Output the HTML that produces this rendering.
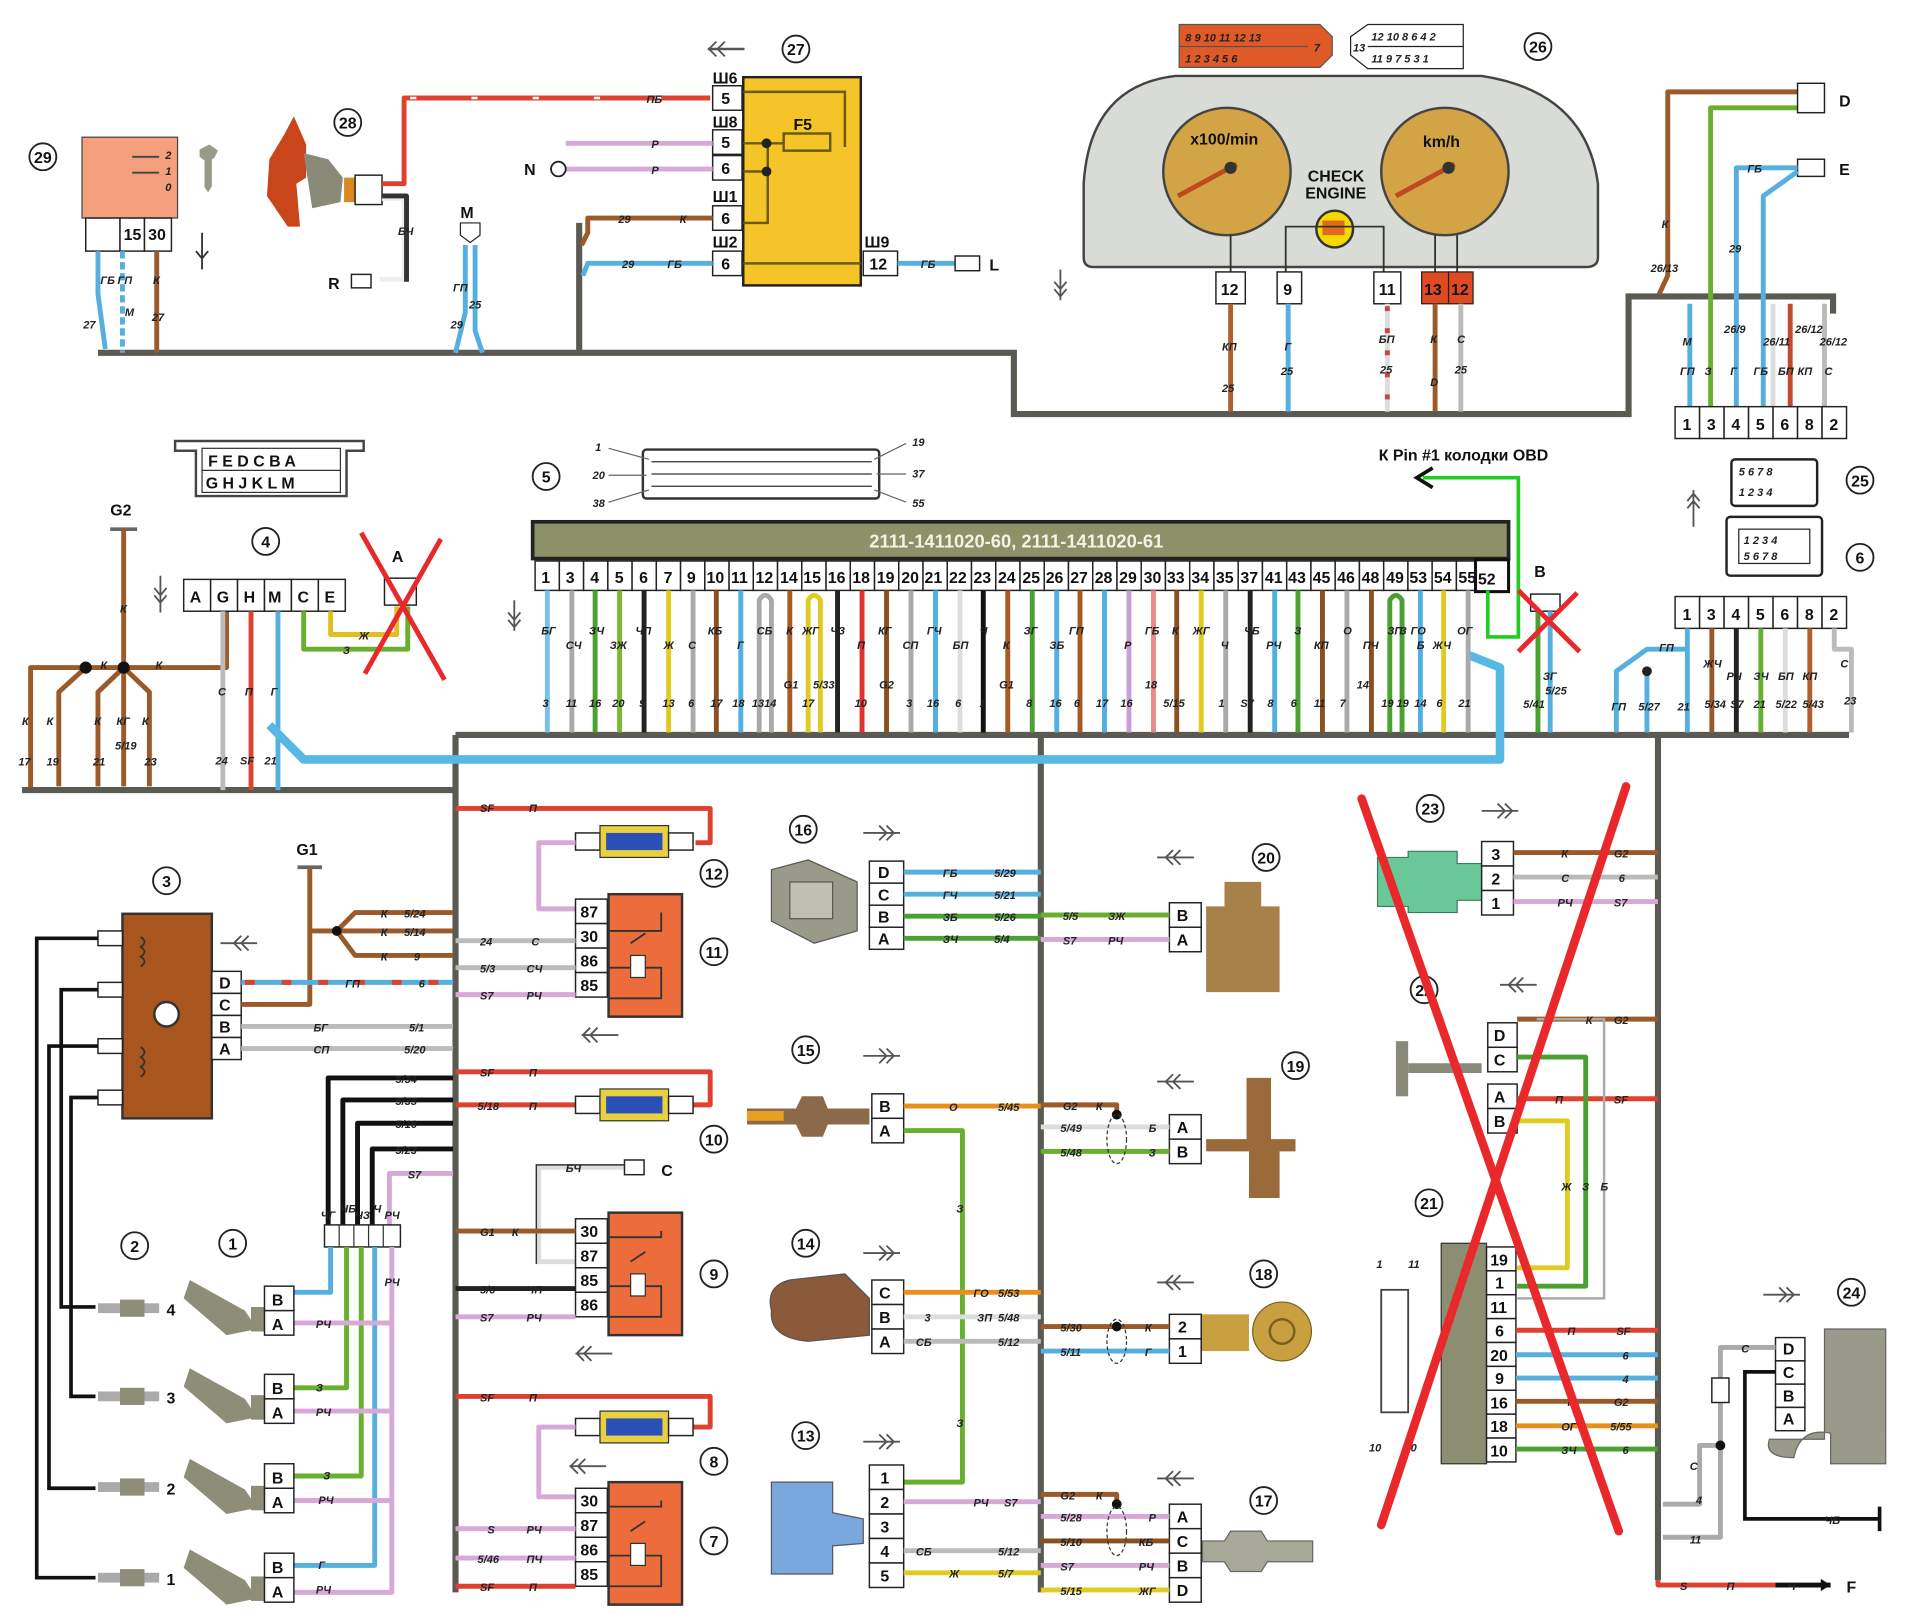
<!DOCTYPE html>
<html><head><meta charset="utf-8"><style>
html,body{margin:0;padding:0;background:#fff;}
svg{display:block;}
text{font-family:"Liberation Sans",sans-serif;font-weight:bold;}
.h{stroke:#5a5a52;stroke-width:5;fill:none;}
.w{fill:none;stroke-width:4;stroke-linejoin:round;}
.pb{fill:#fff;stroke:#222;stroke-width:1.2;}
.t{font-size:13px;fill:#111;}
.s{font-size:9px;fill:#222;font-style:italic;}
.n{font-size:13px;fill:#111;}
.c{fill:#fff;stroke:#222;stroke-width:1.5;}
</style></head><body>
<svg width="1920" height="1623" viewBox="0 0 1568 1325" preserveAspectRatio="none" xmlns="http://www.w3.org/2000/svg">
<rect width="1568" height="1325" fill="#fff"/>

<path class="h" d="M80 288 H828 V338 H1330 V242 H1497 V256"/>
<path class="h" d="M473 288 V182"/>
<path class="h" d="M18 645 H372"/>
<path class="h" d="M372 600 H1510"/>
<path class="h" d="M372 600 V1300"/>
<path class="h" d="M850 600 V1300"/>
<path class="h" d="M1354 600 V1290"/>

<circle class="c" cx="35" cy="128" r="11"/><text class="n" x="35" y="133" text-anchor="middle" font-size="11">29</text>
<rect x="67" y="112" width="78" height="66" fill="#f4a07c" stroke="#444"/>
<text class="s" x="135" y="130">2</text><text class="s" x="135" y="143">1</text><text class="s" x="135" y="156">0</text>
<line x1="108" y1="128" x2="130" y2="128" stroke="#444" stroke-width="1.5"/>
<line x1="108" y1="141" x2="130" y2="141" stroke="#444" stroke-width="1.5"/>
<rect class="pb" x="70" y="178" width="28" height="27"/><rect class="pb" x="98" y="178" width="20" height="27"/><rect class="pb" x="118" y="178" width="22" height="27"/>
<text class="t" x="101" y="196">15</text><text class="t" x="121" y="196">30</text>
<path d="M163 122 l8 -4 l7 5 l-3 6 l-2 1 v22 l-3 5 l-3 -4 v-22 l-4 -3z" fill="#9a9a88"/>
<path class="w" stroke="#55b0e0" d="M80 205 V240 L86 285"/>
<path class="w" stroke="#55b0e0" d="M100 205 V288" stroke-dasharray="6 3"/>
<path class="w" stroke="#9a5a2a" d="M128 205 V288"/>
<text class="s" x="82" y="232">ГБ</text><text class="s" x="96" y="232">ГП</text><text class="s" x="125" y="232">К</text>
<text class="s" x="68" y="268">27</text><text class="s" x="102" y="258">M</text><text class="s" x="124" y="262">27</text>
<path d="M165 190 v30 M160 205 l5 6 l5 -6" stroke="#333" fill="none" stroke-width="1.5"/>

<circle class="c" cx="284" cy="100" r="11"/><text class="n" x="284" y="105" text-anchor="middle" font-size="11">28</text>
<path d="M240 95 L232 110 L220 130 L218 160 L235 185 L245 185 L242 150 L250 145 V118z" fill="#c8461a"/>
<path d="M248 125 L268 130 L280 145 L278 165 L255 170z" fill="#8a8a78"/>
<rect x="281" y="145" width="10" height="20" fill="#d88a20"/>
<rect class="pb" x="290" y="143" width="22" height="24"/>
<path class="w" stroke="#e04030" d="M312 150 H330 V80 H580"/>
<path stroke="#fff" stroke-width="2" stroke-dasharray="5 45" fill="none" d="M335 80 H575"/>
<text class="s" x="528" y="84">ПБ</text>
<path class="w" stroke="#eee" d="M312 162 H330 V228 H310" />
<path class="w" stroke="#333" stroke-width="1.2" d="M312 160 H332 V230" />
<text class="s" x="325" y="192">БЧ</text>
<text class="t" x="268" y="236" font-size="16">R</text><rect class="pb" x="287" y="224" width="16" height="11"/>

<text class="t" x="376" y="178" font-size="16">M</text>
<path d="M376 182 h16 v10 l-8 6 l-8 -6z" fill="#fff" stroke="#222"/>
<path class="w" stroke="#55b0e0" d="M380 200 V255 L372 288"/>
<path class="w" stroke="#55b0e0" d="M388 200 V270 L394 288"/>
<text class="s" x="370" y="238">ГП</text><text class="s" x="383" y="252">25</text><text class="s" x="368" y="268">29</text>

<path d="M578 40 h30" stroke="#555" stroke-width="2"/><path d="M585 34 l-6 6 l6 6 M592 34 l-6 6 l6 6" stroke="#555" fill="none" stroke-width="1.5"/>
<circle class="c" cx="650" cy="40" r="11"/><text class="n" x="650" y="45" text-anchor="middle" font-size="11">27</text>
<rect x="607" y="63" width="96" height="170" fill="#f5c428" stroke="#222" stroke-width="2"/>
<path d="M607 75 H690 V120" stroke="#6a5a10" stroke-width="2" fill="none"/>
<rect x="640" y="109" width="38" height="14" fill="#f5c428" stroke="#6a5a10" stroke-width="2"/>
<text class="t" x="648" y="106">F5</text>
<path d="M607 117 H640 M607 140 H627 V117 M607 182 H627 V140 M607 215 H703" stroke="#6a5a10" stroke-width="2" fill="none"/>
<circle cx="626" cy="117" r="4" fill="#222"/><circle cx="626" cy="140" r="4" fill="#222"/>
<text class="t" x="582" y="68">Ш6</text><rect class="pb" x="582" y="70" width="24" height="20"/><text class="t" x="589" y="85">5</text>
<text class="t" x="582" y="104">Ш8</text><rect class="pb" x="582" y="106" width="24" height="20"/><text class="t" x="589" y="121">5</text>
<rect class="pb" x="582" y="127" width="24" height="20"/><text class="t" x="589" y="142">6</text>
<text class="t" x="582" y="165">Ш1</text><rect class="pb" x="582" y="168" width="24" height="20"/><text class="t" x="589" y="183">6</text>
<text class="t" x="582" y="202">Ш2</text><rect class="pb" x="582" y="205" width="24" height="20"/><text class="t" x="589" y="220">6</text>
<text class="t" x="706" y="202">Ш9</text><rect class="pb" x="705" y="205" width="28" height="20"/><text class="t" x="710" y="220">12</text>
<path class="w" stroke="#d8a8d8" d="M462 117 H582 M460 138 H582"/>
<text class="s" x="532" y="121">Р</text><text class="s" x="532" y="142">Р</text>
<text class="t" x="428" y="143" font-size="16">N</text><circle cx="456" cy="138" r="6" fill="#fff" stroke="#222" stroke-width="1.5"/>
<path class="w" stroke="#9a5a2a" d="M582 178 H480 V190 L475 200"/>
<text class="s" x="505" y="182">29</text><text class="s" x="555" y="182">К</text>
<path class="w" stroke="#55b0e0" d="M582 215 H480 L476 225"/>
<text class="s" x="508" y="219">29</text><text class="s" x="545" y="219">ГБ</text>
<path class="w" stroke="#55b0e0" d="M733 215 H780"/><text class="s" x="752" y="219">ГБ</text>
<rect class="pb" x="780" y="209" width="20" height="12"/><text class="t" x="808" y="221" font-size="16">L</text>

<path d="M963 20 H1078 L1088 30 V45 L1078 55 H963z" fill="#e05a28" stroke="#555"/>
<g class="s" font-style="normal" font-size="9">
<text x="968" y="34">8 9 10 11 12 13</text><text x="968" y="51">1 2 3 4 5 6</text><text x="1073" y="42">7</text>
</g>
<line x1="963" y1="38" x2="1068" y2="38" stroke="#555"/>
<path d="M1117 20 H1195 V56 H1117 L1103 45 V30z" fill="#fff" stroke="#222"/>
<line x1="1117" y1="38" x2="1195" y2="38" stroke="#222"/>
<g font-size="9" class="s" font-style="normal"><text x="1120" y="33">12 10 8 6 4 2</text><text x="1120" y="51">11 9 7 5 3 1</text><text x="1105" y="42">13</text></g>
<circle class="c" cx="1256" cy="38" r="11"/><text class="n" x="1256" y="43" text-anchor="middle" font-size="11">26</text>

<path d="M885 210 V150 Q890 70 960 62 H1210 Q1295 75 1305 150 V210 Q1305 218 1295 218 H893 Q885 218 885 210z" fill="#d9dcd6" stroke="#444" stroke-width="2"/>
<circle cx="1002" cy="140" r="52" fill="#d2a445" stroke="#444" stroke-width="2"/>
<circle cx="1180" cy="140" r="52" fill="#d2a445" stroke="#444" stroke-width="2"/>
<text class="t" x="972" y="118" font-size="12">x100/min</text>
<text class="t" x="1162" y="120" font-size="12">km/h</text>
<path d="M962 160 L1010 134" stroke="#c04a20" stroke-width="4"/><circle cx="1005" cy="137" r="5" fill="#333"/>
<path d="M1140 160 L1188 134" stroke="#c04a20" stroke-width="4"/><circle cx="1183" cy="137" r="5" fill="#333"/>
<text class="t" x="1068" y="148" font-size="11">CHECK</text><text class="t" x="1066" y="162" font-size="11">ENGINE</text>
<circle cx="1090" cy="187" r="15" fill="#f3d900" stroke="#333" stroke-width="2"/>
<rect x="1080" y="180" width="18" height="12" fill="#e06a18"/>
<path d="M1050 222 V185 H1130 V222 M1005 192 V222 M1172 192 V222 M1190 192 V222" stroke="#333" fill="none" stroke-width="1.5"/>
<rect class="pb" x="993" y="222" width="24" height="26"/><text class="t" x="997" y="241">12</text>
<rect class="pb" x="1043" y="222" width="20" height="26"/><text class="t" x="1048" y="241">9</text>
<rect class="pb" x="1122" y="222" width="22" height="26"/><text class="t" x="1126" y="241">11</text>
<rect x="1161" y="222" width="22" height="26" fill="#e04a20" stroke="#222"/><text class="t" x="1163" y="241">13</text>
<rect x="1183" y="222" width="20" height="26" fill="#e04a20" stroke="#222"/><text class="t" x="1185" y="241">12</text>
<path class="w" stroke="#b06030" d="M1005 248 V336"/><text class="s" x="998" y="286">КП</text><text class="s" x="998" y="320">25</text>
<path class="w" stroke="#55b0e0" d="M1052 248 V336"/><text class="s" x="1049" y="286">Г</text><text class="s" x="1046" y="306">25</text>
<path class="w" stroke="#ddd" d="M1133 248 V336"/><path stroke="#d04040" stroke-width="4" stroke-dasharray="4 14" d="M1133 250 V336"/><text class="s" x="1126" y="280">БП</text><text class="s" x="1127" y="305">25</text>
<path class="w" stroke="#9a5a2a" d="M1172 248 V336"/><text class="s" x="1168" y="280">К</text><text class="s" x="1168" y="315">D</text>
<path class="w" stroke="#bbb" d="M1193 248 V336"/><text class="s" x="1190" y="280">С</text><text class="s" x="1188" y="305">25</text>
<path d="M866 220 v25 M861 230 l5 6 l5 -6 M861 236 l5 6 l5 -6" stroke="#555" fill="none" stroke-width="1.5"/>

<path class="w" stroke="#9a5a2a" d="M1468 75 H1362 V225 L1355 240"/><text class="s" x="1357" y="186">К</text><text class="s" x="1348" y="222">26/13</text>
<path class="w" stroke="#6ab030" d="M1468 88 H1397 V332"/>
<rect class="pb" x="1468" y="68" width="22" height="24"/><text class="t" x="1502" y="87" font-size="16">D</text>
<rect class="pb" x="1468" y="130" width="22" height="14"/><text class="t" x="1502" y="143" font-size="16">E</text>
<path class="w" stroke="#55b0e0" d="M1468 137 H1418 V332"/><text class="s" x="1427" y="141">ГБ</text><text class="s" x="1412" y="206">29</text>
<path class="w" stroke="#55b0e0" d="M1468 140 L1440 160 V332"/>
<path class="w" stroke="#55b0e0" d="M1380 248 V332"/>
<path class="w" stroke="#c04a30" d="M1462 248 V332"/><path class="w" stroke="#ddd" d="M1448 248 V332"/><path class="w" stroke="#bbb" d="M1490 248 V332"/>
<g class="s"><text x="1374" y="282">M</text><text x="1372" y="306">ГП</text><text x="1392" y="306">З</text><text x="1413" y="306">Г</text><text x="1432" y="306">ГБ</text><text x="1452" y="306">БП</text><text x="1468" y="306">КП</text><text x="1490" y="306">С</text>
<text x="1408" y="272">26/9</text><text x="1440" y="282">26/11</text><text x="1466" y="272">26/12</text><text x="1486" y="282">26/12</text></g>
<g><rect class="pb" x="1368" y="332" width="20" height="26"/><rect class="pb" x="1388" y="332" width="20" height="26"/><rect class="pb" x="1408" y="332" width="20" height="26"/><rect class="pb" x="1428" y="332" width="20" height="26"/><rect class="pb" x="1448" y="332" width="20" height="26"/><rect class="pb" x="1468" y="332" width="20" height="26"/><rect class="pb" x="1488" y="332" width="20" height="26"/>
<text class="t" x="1374" y="351">1</text><text class="t" x="1394" y="351">3</text><text class="t" x="1414" y="351">4</text><text class="t" x="1434" y="351">5</text><text class="t" x="1454" y="351">6</text><text class="t" x="1474" y="351">8</text><text class="t" x="1494" y="351">2</text></g>

<rect x="1414" y="375" width="70" height="38" fill="#fff" stroke="#222" stroke-width="2" rx="3"/>
<text class="s" font-style="normal" x="1420" y="388">5 6 7 8</text><text class="s" font-style="normal" x="1420" y="405">1 2 3 4</text>
<circle class="c" cx="1519" cy="392" r="11"/><text class="n" x="1519" y="397" text-anchor="middle" font-size="11">25</text>
<rect x="1410" y="422" width="78" height="48" fill="#fff" stroke="#222" stroke-width="2" rx="3"/>
<rect x="1420" y="432" width="58" height="28" fill="#fff" stroke="#222"/>
<text class="s" font-style="normal" x="1424" y="444">1 2 3 4</text><text class="s" font-style="normal" x="1424" y="457">5 6 7 8</text>
<circle class="c" cx="1519" cy="455" r="11"/><text class="n" x="1519" y="460" text-anchor="middle" font-size="11">6</text>
<path d="M1383 400 v30 M1378 415 l5 -6 l5 6 M1378 409 l5 -6 l5 6" stroke="#555" fill="none" stroke-width="1.5"/>
<g><rect class="pb" x="1368" y="487" width="20" height="26"/><rect class="pb" x="1388" y="487" width="20" height="26"/><rect class="pb" x="1408" y="487" width="20" height="26"/><rect class="pb" x="1428" y="487" width="20" height="26"/><rect class="pb" x="1448" y="487" width="20" height="26"/><rect class="pb" x="1468" y="487" width="20" height="26"/><rect class="pb" x="1488" y="487" width="20" height="26"/>
<text class="t" x="1374" y="506">1</text><text class="t" x="1394" y="506">3</text><text class="t" x="1414" y="506">4</text><text class="t" x="1434" y="506">5</text><text class="t" x="1454" y="506">6</text><text class="t" x="1474" y="506">8</text><text class="t" x="1494" y="506">2</text></g>
<path class="w" stroke="#55b0e0" d="M1378 513 V530 H1345 L1320 548 V598 M1345 548 V598 M1378 530 V598"/><circle cx="1345" cy="548" r="4" fill="#222"/>
<path class="w" stroke="#9a5a2a" d="M1398 513 V598"/><path class="w" stroke="#222" d="M1418 513 V598"/><path class="w" stroke="#6ab030" d="M1438 513 V598"/><path class="w" stroke="#ddd" d="M1458 513 V598"/><path class="w" stroke="#b06030" d="M1478 513 V598"/><path class="w" stroke="#bbb" d="M1498 513 V530 H1512 V598"/>
<g class="s"><text x="1355" y="532">ГП</text><text x="1391" y="545">ЖЧ</text><text x="1410" y="555">РЧ</text><text x="1432" y="555">ЗЧ</text><text x="1452" y="555">БП</text><text x="1472" y="555">КП</text><text x="1503" y="545">С</text>
<text x="1316" y="580">ГП</text><text x="1338" y="580">5/27</text><text x="1370" y="580">21</text><text x="1392" y="578">5/34</text><text x="1413" y="578">S7</text><text x="1432" y="578">21</text><text x="1450" y="578">5/22</text><text x="1472" y="578">5/43</text><text x="1506" y="575">23</text></g>

<path d="M143 360 H297 V368 H283 V405 H160 V368 H143z" fill="#fff" stroke="#444" stroke-width="2"/>
<rect x="165" y="366" width="113" height="36" fill="#fff" stroke="#333"/>
<text class="t" x="170" y="381" font-size="12">F E D C B A</text><text class="t" x="168" y="399" font-size="12">G H J K L M</text>
<line x1="165" y1="384" x2="278" y2="384" stroke="#333"/>
<text class="t" x="90" y="421" font-size="16">G2</text>
<line x1="90" y1="432" x2="112" y2="432" stroke="#666" stroke-width="3"/>
<path class="w" stroke="#9a5a2a" d="M101 432 V545 M25 643 V545 H185 V475 M70 545 L48 565 V642 M101 545 L80 565 V642 M101 545 V642 M101 545 L122 565 V642"/>
<circle cx="70" cy="545" r="5" fill="#111"/><circle cx="101" cy="545" r="5" fill="#111"/>
<g class="s"><text x="98" y="500">К</text><text x="18" y="592">К</text><text x="38" y="592">К</text><text x="77" y="592">К</text><text x="95" y="592">КГ</text><text x="116" y="592">К</text><text x="82" y="546">К</text><text x="127" y="546">К</text>
<text x="15" y="625">17</text><text x="38" y="625">19</text><text x="76" y="625">21</text><text x="94" y="612">5/19</text><text x="118" y="625">23</text></g>
<circle class="c" cx="217" cy="442" r="11"/><text class="n" x="217" y="447" text-anchor="middle" font-size="11">4</text>
<path d="M131 470 v30 M126 480 l5 6 l5 -6 M126 486 l5 6 l5 -6" stroke="#555" fill="none" stroke-width="1.5"/>
<g><rect class="pb" x="150" y="473" width="22" height="26"/><rect class="pb" x="172" y="473" width="22" height="26"/><rect class="pb" x="194" y="473" width="22" height="26"/><rect class="pb" x="216" y="473" width="22" height="26"/><rect class="pb" x="238" y="473" width="22" height="26"/><rect class="pb" x="260" y="473" width="22" height="26"/>
<text class="t" x="155" y="492">A</text><text class="t" x="177" y="492">G</text><text class="t" x="199" y="492">H</text><text class="t" x="219" y="492">M</text><text class="t" x="243" y="492">C</text><text class="t" x="265" y="492">E</text></g>
<path class="w" stroke="#bbb" d="M182 499 V645"/><path class="w" stroke="#e04030" d="M205 499 V645"/><path class="w" stroke="#55b0e0" d="M227 499 V645"/>
<g class="s"><text x="178" y="568">С</text><text x="200" y="568">П</text><text x="221" y="568">Г</text><text x="176" y="624">24</text><text x="196" y="624">SF</text><text x="216" y="624">21</text></g>
<path class="w" stroke="#6ab030" d="M248 499 V530 H333 V495"/><path class="w" stroke="#e0c020" d="M270 499 V518 H324 V495"/>
<text class="s" x="293" y="522">Ж</text><text class="s" x="280" y="534">З</text>
<text class="t" x="320" y="459" font-size="14">A</text><rect class="pb" x="314" y="472" width="26" height="22"/>
<path d="M295 435 L363 555 M360 440 L298 550" stroke="#e8282a" stroke-width="4"/>

<path d="M220 592 L248 620 H1225 V545 L1200 535" stroke="#58b8e4" stroke-width="7" fill="none" stroke-linejoin="round"/>

<circle class="c" cx="446" cy="389" r="11"/><text class="n" x="446" y="394" text-anchor="middle" font-size="11">5</text>
<rect x="525" y="367" width="193" height="40" fill="#fff" stroke="#333" stroke-width="2" rx="3"/>
<g stroke="#333" stroke-width="1"><path d="M532 377 H712 M532 387 H712 M532 397 H712"/></g>
<g class="s" font-style="normal"><text x="486" y="368">1</text><text x="484" y="391">20</text><text x="484" y="414">38</text><text x="745" y="364">19</text><text x="745" y="390">37</text><text x="745" y="414">55</text></g>
<path d="M497 366 L530 375 M497 388 H528 M497 410 L530 400 M740 362 L714 375 M740 387 H716 M740 410 L714 400" stroke="#666" stroke-width="1"/>
<rect x="435" y="426" width="797" height="30" fill="#8c9168" stroke="#222" stroke-width="3"/>
<text x="830" y="447" font-size="15" fill="#f3f3e3" text-anchor="middle" font-weight="bold" font-family="Liberation Sans,sans-serif">2111-1411020-60, 2111-1411020-61</text>
<g font-size="13">
<rect class="pb" x="437" y="458" width="19.8" height="24"/><text class="t" x="442" y="476">1</text>
<rect class="pb" x="456.8" y="458" width="19.8" height="24"/><text class="t" x="462" y="476">3</text>
<rect class="pb" x="476.6" y="458" width="19.8" height="24"/><text class="t" x="482" y="476">4</text>
<rect class="pb" x="496.4" y="458" width="19.8" height="24"/><text class="t" x="502" y="476">5</text>
<rect class="pb" x="516.2" y="458" width="19.8" height="24"/><text class="t" x="522" y="476">6</text>
<rect class="pb" x="536" y="458" width="19.8" height="24"/><text class="t" x="542" y="476">7</text>
<rect class="pb" x="555.8" y="458" width="19.8" height="24"/><text class="t" x="561" y="476">9</text>
<rect class="pb" x="575.6" y="458" width="19.8" height="24"/><text class="t" x="577" y="476">10</text>
<rect class="pb" x="595.4" y="458" width="19.8" height="24"/><text class="t" x="597" y="476">11</text>
<rect class="pb" x="615.2" y="458" width="19.8" height="24"/><text class="t" x="617" y="476">12</text>
<rect class="pb" x="635" y="458" width="19.8" height="24"/><text class="t" x="637" y="476">14</text>
<rect class="pb" x="654.8" y="458" width="19.8" height="24"/><text class="t" x="656" y="476">15</text>
<rect class="pb" x="674.6" y="458" width="19.8" height="24"/><text class="t" x="676" y="476">16</text>
<rect class="pb" x="694.4" y="458" width="19.8" height="24"/><text class="t" x="696" y="476">18</text>
<rect class="pb" x="714.2" y="458" width="19.8" height="24"/><text class="t" x="716" y="476">19</text>
<rect class="pb" x="734" y="458" width="19.8" height="24"/><text class="t" x="736" y="476">20</text>
<rect class="pb" x="753.8" y="458" width="19.8" height="24"/><text class="t" x="755" y="476">21</text>
<rect class="pb" x="773.6" y="458" width="19.8" height="24"/><text class="t" x="775" y="476">22</text>
<rect class="pb" x="793.4" y="458" width="19.8" height="24"/><text class="t" x="795" y="476">23</text>
<rect class="pb" x="813.2" y="458" width="19.8" height="24"/><text class="t" x="815" y="476">24</text>
<rect class="pb" x="833" y="458" width="19.8" height="24"/><text class="t" x="835" y="476">25</text>
<rect class="pb" x="852.8" y="458" width="19.8" height="24"/><text class="t" x="854" y="476">26</text>
<rect class="pb" x="872.6" y="458" width="19.8" height="24"/><text class="t" x="874" y="476">27</text>
<rect class="pb" x="892.4" y="458" width="19.8" height="24"/><text class="t" x="894" y="476">28</text>
<rect class="pb" x="912.2" y="458" width="19.8" height="24"/><text class="t" x="914" y="476">29</text>
<rect class="pb" x="932" y="458" width="19.8" height="24"/><text class="t" x="934" y="476">30</text>
<rect class="pb" x="951.8" y="458" width="19.8" height="24"/><text class="t" x="953" y="476">33</text>
<rect class="pb" x="971.6" y="458" width="19.8" height="24"/><text class="t" x="973" y="476">34</text>
<rect class="pb" x="991.4" y="458" width="19.8" height="24"/><text class="t" x="993" y="476">35</text>
<rect class="pb" x="1011.2" y="458" width="19.8" height="24"/><text class="t" x="1013" y="476">37</text>
<rect class="pb" x="1031" y="458" width="19.8" height="24"/><text class="t" x="1033" y="476">41</text>
<rect class="pb" x="1050.8" y="458" width="19.8" height="24"/><text class="t" x="1052" y="476">43</text>
<rect class="pb" x="1070.6" y="458" width="19.8" height="24"/><text class="t" x="1072" y="476">45</text>
<rect class="pb" x="1090.4" y="458" width="19.8" height="24"/><text class="t" x="1092" y="476">46</text>
<rect class="pb" x="1110.2" y="458" width="19.8" height="24"/><text class="t" x="1112" y="476">48</text>
<rect class="pb" x="1130" y="458" width="19.8" height="24"/><text class="t" x="1132" y="476">49</text>
<rect class="pb" x="1149.8" y="458" width="19.8" height="24"/><text class="t" x="1151" y="476">53</text>
<rect class="pb" x="1169.6" y="458" width="19.8" height="24"/><text class="t" x="1171" y="476">54</text>
<rect class="pb" x="1189.4" y="458" width="19.8" height="24"/><text class="t" x="1191" y="476">55</text>
<rect x="1205" y="457" width="27" height="26" fill="#fff" stroke="#111" stroke-width="2.5"/><text class="t" x="1207" y="477" font-size="15">52</text>
</g>
<g class="w" stroke-width="3.5">
<path stroke="#7ac0e8" d="M447 482 V598"/><path stroke="#aaa" d="M467 482 V598"/><path stroke="#4aa030" d="M486 482 V598"/><path stroke="#7ab830" d="M506 482 V598"/>
<path stroke="#222" d="M526 482 V598"/><path stroke="#e0cc20" d="M546 482 V598"/><path stroke="#aaa" d="M566 482 V598"/><path stroke="#8a5020" d="M585 482 V598"/>
<path stroke="#50b0e0" d="M605 482 V598"/><path stroke="#aaa" d="M620 598 V490 Q625 482 630 490 V598"/><path stroke="#a85a20" d="M645 482 V598"/><path stroke="#e0cc20" d="M660 598 V490 Q665 482 670 490 V598"/>
<path stroke="#222" d="M684 482 V598"/><path stroke="#e03030" d="M704 482 V598"/><path stroke="#8a5020" d="M724 482 V598"/><path stroke="#aaa" d="M744 482 V598"/>
<path stroke="#50b0e0" d="M764 482 V598"/><path stroke="#ddd" d="M784 482 V598"/><path stroke="#111" d="M803 482 V598"/><path stroke="#a85a20" d="M823 482 V598"/>
<path stroke="#4aa030" d="M843 482 V598"/><path stroke="#50b0e0" d="M863 482 V598"/><path stroke="#a85a20" d="M882 482 V598"/><path stroke="#50b0e0" d="M902 482 V598"/>
<path stroke="#c8a0d8" d="M922 482 V598"/><path stroke="#e88a8a" d="M942 482 V598"/><path stroke="#8a5020" d="M961 482 V598"/><path stroke="#e0cc20" d="M981 482 V598"/>
<path stroke="#aaa" d="M1001 482 V598"/><path stroke="#222" d="M1021 482 V598"/><path stroke="#50b0e0" d="M1041 482 V598"/><path stroke="#4aa030" d="M1060 482 V598"/>
<path stroke="#8a5020" d="M1080 482 V598"/><path stroke="#aaa" d="M1100 482 V598"/><path stroke="#8a5020" d="M1120 482 V598"/><path stroke="#4aa030" d="M1135 598 V490 Q1140 482 1145 490 V598"/>
<path stroke="#50b0e0" d="M1160 482 V598"/><path stroke="#e0cc20" d="M1179 482 V598"/><path stroke="#aaa" d="M1199 482 V598"/>
</g>
<g class="s" font-size="8.5">
<text x="442" y="518">БГ</text><text x="462" y="530">СЧ</text><text x="481" y="518">ЗЧ</text><text x="498" y="530">ЗЖ</text><text x="519" y="518">ЧП</text><text x="542" y="530">Ж</text><text x="562" y="530">С</text><text x="578" y="518">КБ</text><text x="602" y="530">Г</text><text x="618" y="518">СБ</text><text x="642" y="518">К</text><text x="655" y="518">ЖГ</text><text x="678" y="518">ЧЗ</text><text x="700" y="530">П</text><text x="717" y="518">КГ</text><text x="737" y="530">СП</text><text x="757" y="518">ГЧ</text><text x="778" y="530">БП</text><text x="800" y="518">Ч</text><text x="819" y="530">К</text><text x="836" y="518">ЗГ</text><text x="857" y="530">ЗБ</text><text x="873" y="518">ГП</text><text x="918" y="530">Р</text><text x="935" y="518">ГБ</text><text x="957" y="518">К</text><text x="974" y="518">ЖГ</text><text x="997" y="530">Ч</text><text x="1016" y="518">ЧБ</text><text x="1034" y="530">РЧ</text><text x="1057" y="518">З</text><text x="1073" y="530">КП</text><text x="1097" y="518">О</text><text x="1113" y="530">ПЧ</text><text x="1133" y="518">ЗП</text><text x="1143" y="518">З</text><text x="1157" y="530">Б</text><text x="1152" y="518">ГО</text><text x="1170" y="530">ЖЧ</text><text x="1190" y="518">ОГ</text>
<text x="443" y="577">3</text><text x="462" y="577">11</text><text x="481" y="577">16</text><text x="500" y="577">20</text><text x="522" y="577">9</text><text x="541" y="577">13</text><text x="562" y="577">6</text><text x="580" y="577">17</text><text x="598" y="577">18</text><text x="614" y="577">1314</text><text x="640" y="562">G1</text><text x="655" y="577">17</text><text x="664" y="562">5/33</text><text x="698" y="577">10</text><text x="718" y="562">G2</text><text x="740" y="577">3</text><text x="757" y="577">16</text><text x="780" y="577">6</text><text x="800" y="577">1</text><text x="816" y="562">G1</text><text x="838" y="577">8</text><text x="857" y="577">16</text><text x="877" y="577">6</text><text x="895" y="577">17</text><text x="915" y="577">16</text><text x="935" y="562">18</text><text x="950" y="577">5/15</text><text x="995" y="577">1</text><text x="1013" y="577">S7</text><text x="1035" y="577">8</text><text x="1054" y="577">6</text><text x="1073" y="577">11</text><text x="1094" y="577">7</text><text x="1108" y="562">14</text><text x="1128" y="577">19 19</text><text x="1155" y="577">14</text><text x="1173" y="577">6</text><text x="1191" y="577">21</text>
</g>
<path d="M420 490 v25 M415 500 l5 6 l5 -6 M415 506 l5 6 l5 -6" stroke="#555" fill="none" stroke-width="1.5"/>
<path d="M1215 482 V520 H1240 V390 H1162" stroke="#22cc22" stroke-width="3" fill="none"/>
<path d="M1170 382 L1157 390 L1170 398" stroke="#111" stroke-width="3" fill="none"/>
<text class="t" x="1126" y="376" font-size="11">К Pin #1 колодки OBD</text>
<text class="t" x="1253" y="471" font-size="15">B</text>
<rect class="pb" x="1250" y="485" width="24" height="14"/>
<path class="w" stroke="#4aa030" d="M1256 499 V598"/><path class="w" stroke="#55b0e0" d="M1266 499 V598"/>
<text class="s" x="1260" y="555">ЗГ</text><text class="s" x="1244" y="578">5/41</text><text class="s" x="1262" y="567">5/25</text>
<path d="M1240 482 L1290 532 M1288 484 L1240 532" stroke="#e8282a" stroke-width="4"/>

<circle class="c" cx="136" cy="719" r="11"/><text class="n" x="136" y="724" text-anchor="middle" font-size="11">3</text>
<rect x="100" y="746" width="73" height="167" fill="#a8561e" stroke="#333" stroke-width="2"/>
<circle cx="136" cy="828" r="10" fill="#fff" stroke="#333" stroke-width="2"/>
<path d="M115 765 q6 4 0 8 q6 4 0 8 q6 4 0 8 M115 855 q6 4 0 8 q6 4 0 8 q6 4 0 8" stroke="#333" fill="none" stroke-width="1.5"/>
<g><rect class="pb" x="80" y="760" width="20" height="12"/><rect class="pb" x="80" y="802" width="20" height="12"/><rect class="pb" x="80" y="848" width="20" height="12"/><rect class="pb" x="80" y="890" width="20" height="12"/></g>
<path d="M80 766 H30 V1288 H78 M80 808 H50 V1067 H78 M80 854 H40 V1215 H78 M80 896 H58 V1140 H78" stroke="#111" stroke-width="3" fill="none"/>
<g><rect class="pb" x="173" y="793" width="24" height="18"/><rect class="pb" x="173" y="811" width="24" height="18"/><rect class="pb" x="173" y="829" width="24" height="18"/><rect class="pb" x="173" y="847" width="24" height="18"/>
<text class="t" x="179" y="807">D</text><text class="t" x="179" y="825">C</text><text class="t" x="179" y="843">B</text><text class="t" x="179" y="861">A</text></g>
<path d="M180 770 h30 M197 764 l-6 6 l6 6 M203 764 l-6 6 l6 6" stroke="#555" fill="none" stroke-width="1.5"/>
<text class="t" x="242" y="698" font-size="16">G1</text><line x1="243" y1="708" x2="263" y2="708" stroke="#666" stroke-width="3"/>
<path class="w" stroke="#9a5a2a" d="M253 708 V820 H197 M253 760 H275 L290 745 H370 M275 760 H370 M275 760 L290 780 H370"/>
<circle cx="275" cy="760" r="4" fill="#111"/>
<g class="s"><text x="311" y="749">К</text><text x="330" y="749">5/24</text><text x="311" y="764">К</text><text x="330" y="764">5/14</text><text x="311" y="784">К</text><text x="338" y="784">9</text></g>
<path class="w" stroke="#55b0e0" d="M197 802 H370"/><path stroke="#e04030" stroke-width="4" stroke-dasharray="8 22" d="M200 802 H370"/>
<path class="w" stroke="#bbb" d="M197 838 H370"/><path class="w" stroke="#bbb" d="M197 856 H370"/>
<g class="s"><text x="282" y="806">ГП</text><text x="342" y="806">6</text><text x="256" y="842">БГ</text><text x="334" y="842">5/1</text><text x="256" y="860">СП</text><text x="330" y="860">5/20</text></g>

<path class="w" stroke="#111" d="M268 1000 V880 H370 M280 1000 V898 H370 M292 1000 V917 H370 M304 1000 V938 H370"/>
<path class="w" stroke="#d8a8d8" d="M318 1000 V958 H370"/>
<g class="s"><text x="323" y="884">5/34</text><text x="323" y="902">5/35</text><text x="323" y="921">5/16</text><text x="323" y="942">5/23</text><text x="333" y="962">S7</text>
<text x="262" y="995">ЧГ</text><text x="278" y="990">ЧБ</text><text x="290" y="995">ЧЗ</text><text x="305" y="990">Ч</text><text x="314" y="995">РЧ</text></g>
<rect class="pb" x="265" y="1000" width="62" height="18"/>
<g stroke="#333" fill="none"><path d="M277 1000 V1018 M289 1000 V1018 M301 1000 V1018 M313 1000 V1018"/></g>
<path class="w" stroke="#55b0e0" d="M270 1018 V1055 H240"/><path class="w" stroke="#6ab030" d="M283 1018 V1133 H240 M295 1018 V1205 H240"/><path class="w" stroke="#55b0e0" d="M306 1018 V1278 H240"/>
<path class="w" stroke="#d8a8d8" d="M320 1018 V1300 H240 M320 1080 H240 M320 1152 H240 M320 1225 H240"/>
<g class="s"><text x="258" y="1084">РЧ</text><text x="258" y="1136">З</text><text x="258" y="1156">РЧ</text><text x="264" y="1208">З</text><text x="260" y="1228">РЧ</text><text x="260" y="1281">Г</text><text x="258" y="1301">РЧ</text><text x="314" y="1050">РЧ</text></g>
<circle class="c" cx="110" cy="1017" r="11"/><text class="n" x="110" y="1022" text-anchor="middle" font-size="11">2</text>
<circle class="c" cx="190" cy="1015" r="11"/><text class="n" x="190" y="1020" text-anchor="middle" font-size="11">1</text>
<g id="inj">
<path d="M155 1045 L200 1070 L210 1085 L185 1090 L150 1060z" fill="#8e8e78"/>
<rect x="205" y="1067" width="12" height="20" fill="#8e8e78"/>
<rect x="80" y="1064" width="50" height="8" fill="#aaa"/><rect x="98" y="1061" width="20" height="14" fill="#8e8e78"/>
</g>
<use href="#inj" y="72"/><use href="#inj" y="146"/><use href="#inj" y="220"/>
<g class="t"><text x="136" y="1074">4</text><text x="136" y="1146">3</text><text x="136" y="1220">2</text><text x="136" y="1294">1</text></g>
<g><rect class="pb" x="216" y="1050" width="24" height="20"/><rect class="pb" x="216" y="1070" width="24" height="20"/><text class="t" x="222" y="1066">B</text><text class="t" x="222" y="1086">A</text>
<rect class="pb" x="216" y="1122" width="24" height="20"/><rect class="pb" x="216" y="1142" width="24" height="20"/><text class="t" x="222" y="1138">B</text><text class="t" x="222" y="1158">A</text>
<rect class="pb" x="216" y="1195" width="24" height="20"/><rect class="pb" x="216" y="1215" width="24" height="20"/><text class="t" x="222" y="1211">B</text><text class="t" x="222" y="1231">A</text>
<rect class="pb" x="216" y="1268" width="24" height="20"/><rect class="pb" x="216" y="1288" width="24" height="20"/><text class="t" x="222" y="1284">B</text><text class="t" x="222" y="1304">A</text></g>

<g id="rel">
<path class="w" stroke="#e04030" d="M372 660 H580 V688 H568"/>
<text class="s" x="392" y="663">SF</text><text class="s" x="432" y="663">П</text>
<rect class="pb" x="470" y="680" width="20" height="14"/><rect x="490" y="674" width="56" height="26" fill="#e8d040" stroke="#333"/><rect x="495" y="680" width="46" height="14" fill="#2a50b8"/><rect class="pb" x="546" y="680" width="20" height="14"/>
<path class="w" stroke="#d8a8d8" d="M470 688 H440 V742 H470"/>
<rect x="497" y="730" width="60" height="100" fill="#ec6c3c" stroke="#333" stroke-width="2"/>
<path d="M497 760 H540 V745 M497 790 H540 V815 H497 M515 770 l12 -8" stroke="#333" fill="none" stroke-width="1.5"/>
<rect x="515" y="780" width="12" height="18" fill="#fff" stroke="#333"/>
</g>
<g><rect class="pb" x="470" y="734" width="26" height="20"/><rect class="pb" x="470" y="754" width="26" height="20"/><rect class="pb" x="470" y="774" width="26" height="20"/><rect class="pb" x="470" y="794" width="26" height="20"/>
<text class="t" x="474" y="749">87</text><text class="t" x="474" y="769">30</text><text class="t" x="474" y="789">86</text><text class="t" x="474" y="809">85</text></g>
<path class="w" stroke="#bbb" d="M372 768 H470 M372 790 H470"/><path class="w" stroke="#d8a8d8" d="M372 812 H470"/>
<g class="s"><text x="392" y="772">24</text><text x="434" y="772">С</text><text x="392" y="794">5/3</text><text x="430" y="794">СЧ</text><text x="392" y="816">S7</text><text x="430" y="816">РЧ</text></g>
<circle class="c" cx="583" cy="713" r="11"/><text class="n" x="583" y="718" text-anchor="middle" font-size="11">12</text>
<circle class="c" cx="583" cy="777" r="11"/><text class="n" x="583" y="782" text-anchor="middle" font-size="11">11</text>
<path d="M475 845 h30 M482 839 l-6 6 l6 6 M488 839 l-6 6 l6 6" stroke="#555" fill="none" stroke-width="1.5"/>

<path class="w" stroke="#e04030" d="M372 875 H580 V902 H566 M372 902 H470"/>
<g class="s"><text x="392" y="879">SF</text><text x="432" y="879">П</text><text x="390" y="906">5/18</text><text x="432" y="906">П</text></g>
<rect class="pb" x="470" y="895" width="20" height="14"/><rect x="490" y="889" width="56" height="26" fill="#e8d040" stroke="#333"/><rect x="495" y="895" width="46" height="14" fill="#2a50b8"/><rect class="pb" x="546" y="895" width="20" height="14"/>
<circle class="c" cx="583" cy="930" r="11"/><text class="n" x="583" y="935" text-anchor="middle" font-size="11">10</text>
<path class="w" stroke="#ddd" d="M510 953 H440 V1030 H470"/><path stroke="#333" stroke-width="1.2" fill="none" d="M512 951 H438 V1032"/>
<text class="s" x="462" y="957">БЧ</text><rect class="pb" x="510" y="947" width="16" height="12"/><text class="t" x="540" y="960" font-size="16">C</text>
<rect x="497" y="990" width="60" height="100" fill="#ec6c3c" stroke="#333" stroke-width="2"/>
<path d="M497 1010 H540 V1005 M497 1050 H540 V1075 H497 M515 1030 l12 -8" stroke="#333" fill="none" stroke-width="1.5"/>
<rect x="515" y="1040" width="12" height="18" fill="#fff" stroke="#333"/>
<g><rect class="pb" x="470" y="995" width="26" height="20"/><rect class="pb" x="470" y="1015" width="26" height="20"/><rect class="pb" x="470" y="1035" width="26" height="20"/><rect class="pb" x="470" y="1055" width="26" height="20"/>
<text class="t" x="474" y="1010">30</text><text class="t" x="474" y="1030">87</text><text class="t" x="474" y="1050">85</text><text class="t" x="474" y="1070">86</text></g>
<path class="w" stroke="#9a5a2a" d="M372 1005 H470"/><path class="w" stroke="#222" d="M372 1052 H470"/><path class="w" stroke="#d8a8d8" d="M372 1075 H470"/>
<g class="s"><text x="392" y="1009">G1</text><text x="418" y="1009">К</text><text x="392" y="1056">5/6</text><text x="430" y="1056">ЧП</text><text x="392" y="1079">S7</text><text x="430" y="1079">РЧ</text></g>
<circle class="c" cx="583" cy="1040" r="11"/><text class="n" x="583" y="1045" text-anchor="middle" font-size="11">9</text>
<path d="M470 1105 h30 M477 1099 l-6 6 l6 6 M483 1099 l-6 6 l6 6" stroke="#555" fill="none" stroke-width="1.5"/>

<path class="w" stroke="#e04030" d="M372 1140 H580 V1165 H566"/>
<g class="s"><text x="392" y="1144">SF</text><text x="432" y="1144">П</text></g>
<rect class="pb" x="470" y="1158" width="20" height="14"/><rect x="490" y="1152" width="56" height="26" fill="#e8d040" stroke="#333"/><rect x="495" y="1158" width="46" height="14" fill="#2a50b8"/><rect class="pb" x="546" y="1158" width="20" height="14"/>
<path class="w" stroke="#d8a8d8" d="M470 1165 H440 V1222 H470"/>
<circle class="c" cx="583" cy="1193" r="11"/><text class="n" x="583" y="1198" text-anchor="middle" font-size="11">8</text>
<path d="M465 1197 h30 M472 1191 l-6 6 l6 6 M478 1191 l-6 6 l6 6" stroke="#555" fill="none" stroke-width="1.5"/>
<rect x="497" y="1210" width="60" height="100" fill="#ec6c3c" stroke="#333" stroke-width="2"/>
<path d="M497 1230 H540 V1225 M497 1270 H540 V1295 H497 M515 1250 l12 -8" stroke="#333" fill="none" stroke-width="1.5"/>
<rect x="515" y="1260" width="12" height="18" fill="#fff" stroke="#333"/>
<g><rect class="pb" x="470" y="1215" width="26" height="20"/><rect class="pb" x="470" y="1235" width="26" height="20"/><rect class="pb" x="470" y="1255" width="26" height="20"/><rect class="pb" x="470" y="1275" width="26" height="20"/>
<text class="t" x="474" y="1230">30</text><text class="t" x="474" y="1250">87</text><text class="t" x="474" y="1270">86</text><text class="t" x="474" y="1290">85</text></g>
<path class="w" stroke="#d8a8d8" d="M372 1248 H470"/><path class="w" stroke="#d8a8d8" d="M372 1272 H470"/><path class="w" stroke="#e04030" d="M372 1295 H470"/>
<g class="s"><text x="398" y="1252">S</text><text x="430" y="1252">РЧ</text><text x="390" y="1276">5/46</text><text x="430" y="1276">ПЧ</text><text x="392" y="1299">SF</text><text x="432" y="1299">П</text></g>
<circle class="c" cx="583" cy="1258" r="11"/><text class="n" x="583" y="1263" text-anchor="middle" font-size="11">7</text>

<circle class="c" cx="656" cy="677" r="11"/><text class="n" x="656" y="682" text-anchor="middle" font-size="11">16</text>
<path d="M705 680 h30 M718 674 l6 6 l-6 6 M724 674 l6 6 l-6 6" stroke="#555" fill="none" stroke-width="1.5"/>
<path d="M630 710 L660 702 L700 720 V760 L665 770 L630 752z" fill="#9a9a8a" stroke="#555"/>
<rect x="645" y="720" width="35" height="30" fill="#c0c0b0" stroke="#555"/>
<g><rect class="pb" x="710" y="703" width="28" height="18"/><rect class="pb" x="710" y="721" width="28" height="18"/><rect class="pb" x="710" y="739" width="28" height="18"/><rect class="pb" x="710" y="757" width="28" height="18"/>
<text class="t" x="717" y="717">D</text><text class="t" x="717" y="735">C</text><text class="t" x="717" y="753">B</text><text class="t" x="717" y="771">A</text></g>
<path class="w" stroke="#55b0e0" d="M738 712 H850 M738 730 H850"/><path class="w" stroke="#4aa030" d="M738 748 H850 M738 766 H850"/>
<g class="s"><text x="770" y="716">ГБ</text><text x="812" y="716">5/29</text><text x="770" y="734">ГЧ</text><text x="812" y="734">5/21</text><text x="770" y="752">ЗБ</text><text x="812" y="752">5/26</text><text x="770" y="770">ЗЧ</text><text x="812" y="770">5/4</text></g>

<circle class="c" cx="658" cy="857" r="11"/><text class="n" x="658" y="862" text-anchor="middle" font-size="11">15</text>
<path d="M705 862 h30 M718 856 l6 6 l-6 6 M724 856 l6 6 l-6 6" stroke="#555" fill="none" stroke-width="1.5"/>
<path d="M610 905 H650 L655 895 H672 L676 905 H710 V918 H676 L672 928 H655 L650 918 H610z" fill="#8a6a4a"/>
<rect x="610" y="907" width="30" height="8" fill="#e8a020"/>
<g><rect class="pb" x="712" y="893" width="26" height="20"/><rect class="pb" x="712" y="913" width="26" height="20"/><text class="t" x="718" y="908">B</text><text class="t" x="718" y="928">A</text></g>
<path class="w" stroke="#e8901a" d="M738 903 H850"/><path class="w" stroke="#6ab030" d="M738 923 H786 V1210 H738"/>
<g class="s"><text x="775" y="907">О</text><text x="815" y="907">5/45</text><text x="781" y="990">З</text><text x="781" y="1165">З</text></g>

<circle class="c" cx="658" cy="1015" r="11"/><text class="n" x="658" y="1020" text-anchor="middle" font-size="11">14</text>
<path d="M705 1023 h30 M718 1017 l6 6 l-6 6 M724 1017 l6 6 l-6 6" stroke="#555" fill="none" stroke-width="1.5"/>
<path d="M630 1070 Q625 1050 645 1045 L690 1040 L710 1060 V1090 L660 1095 Q628 1092 630 1070z" fill="#8a5a3a" stroke="#555"/>
<g><rect class="pb" x="712" y="1045" width="26" height="20"/><rect class="pb" x="712" y="1065" width="26" height="20"/><rect class="pb" x="712" y="1085" width="26" height="20"/><text class="t" x="718" y="1060">C</text><text class="t" x="718" y="1080">B</text><text class="t" x="718" y="1100">A</text></g>
<path class="w" stroke="#e8901a" d="M738 1055 H850"/><path class="w" stroke="#ddd" d="M738 1075 H850"/><path class="w" stroke="#bbb" d="M738 1095 H850"/>
<g class="s"><text x="795" y="1059">ГО</text><text x="815" y="1059">5/53</text><text x="755" y="1079">3</text><text x="798" y="1079">ЗП</text><text x="815" y="1079">5/48</text><text x="748" y="1099">СБ</text><text x="815" y="1099">5/12</text></g>

<circle class="c" cx="658" cy="1172" r="11"/><text class="n" x="658" y="1177" text-anchor="middle" font-size="11">13</text>
<path d="M705 1177 h30 M718 1171 l6 6 l-6 6 M724 1171 l6 6 l-6 6" stroke="#555" fill="none" stroke-width="1.5"/>
<path d="M630 1210 H680 V1235 L705 1240 V1260 L680 1262 V1285 H630z" fill="#7aa8dc" stroke="#556"/>
<g><rect class="pb" x="710" y="1196" width="28" height="20"/><rect class="pb" x="710" y="1216" width="28" height="20"/><rect class="pb" x="710" y="1236" width="28" height="20"/><rect class="pb" x="710" y="1256" width="28" height="20"/><rect class="pb" x="710" y="1276" width="28" height="20"/>
<text class="t" x="719" y="1211">1</text><text class="t" x="719" y="1231">2</text><text class="t" x="719" y="1251">3</text><text class="t" x="719" y="1271">4</text><text class="t" x="719" y="1291">5</text></g>
<path class="w" stroke="#d8a8d8" d="M738 1226 H850"/><path class="w" stroke="#bbb" d="M738 1266 H850"/><path class="w" stroke="#e0cc20" d="M738 1284 H850"/>
<g class="s"><text x="795" y="1230">РЧ</text><text x="820" y="1230">S7</text><text x="748" y="1270">СБ</text><text x="815" y="1270">5/12</text><text x="775" y="1288">Ж</text><text x="815" y="1288">5/7</text></g>

<path d="M945 700 h30 M958 694 l-6 6 l6 6 M964 694 l-6 6 l6 6" stroke="#555" fill="none" stroke-width="1.5"/>
<circle class="c" cx="1034" cy="700" r="11"/><text class="n" x="1034" y="705" text-anchor="middle" font-size="11">20</text>
<path d="M985 740 H1045 V810 H985z M1000 720 H1030 V740 H1000z" fill="#a8804a"/>
<g><rect class="pb" x="955" y="737" width="26" height="20"/><rect class="pb" x="955" y="757" width="26" height="20"/><text class="t" x="961" y="752">B</text><text class="t" x="961" y="772">A</text></g>
<path class="w" stroke="#6ab030" d="M850 747 H955"/><path class="w" stroke="#d8a8d8" d="M850 767 H955"/>
<g class="s"><text x="868" y="751">5/5</text><text x="905" y="751">ЗЖ</text><text x="868" y="771">S7</text><text x="905" y="771">РЧ</text></g>

<path d="M945 883 h30 M958 877 l-6 6 l6 6 M964 877 l-6 6 l6 6" stroke="#555" fill="none" stroke-width="1.5"/>
<circle class="c" cx="1058" cy="870" r="11"/><text class="n" x="1058" y="875" text-anchor="middle" font-size="11">19</text>
<path d="M1018 880 H1038 V930 H1058 V940 H1045 V978 H1020 V940 H985 V930 H1018z" fill="#9a6a3a"/>
<g><rect class="pb" x="955" y="910" width="26" height="20"/><rect class="pb" x="955" y="930" width="26" height="20"/><text class="t" x="961" y="925">A</text><text class="t" x="961" y="945">B</text></g>
<path class="w" stroke="#9a5a2a" d="M850 902 H912 V910"/><path class="w" stroke="#ddd" d="M850 920 H955"/><path class="w" stroke="#6ab030" d="M850 940 H955"/>
<circle cx="912" cy="910" r="4" fill="#111"/><ellipse cx="912" cy="930" rx="8" ry="20" fill="none" stroke="#333" stroke-dasharray="3 2"/>
<g class="s"><text x="868" y="906">G2</text><text x="895" y="906">К</text><text x="866" y="924">5/49</text><text x="938" y="924">Б</text><text x="866" y="944">5/48</text><text x="938" y="944">З</text></g>

<path d="M945 1047 h30 M958 1041 l-6 6 l6 6 M964 1041 l-6 6 l6 6" stroke="#555" fill="none" stroke-width="1.5"/>
<circle class="c" cx="1032" cy="1040" r="11"/><text class="n" x="1032" y="1045" text-anchor="middle" font-size="11">18</text>
<rect x="980" y="1073" width="40" height="30" fill="#c8a040"/><circle cx="1047" cy="1087" r="24" fill="#c8a040" stroke="#7a6020"/><circle cx="1047" cy="1087" r="10" fill="none" stroke="#7a6020" stroke-width="2"/>
<g><rect class="pb" x="955" y="1073" width="26" height="20"/><rect class="pb" x="955" y="1093" width="26" height="20"/><text class="t" x="962" y="1088">2</text><text class="t" x="962" y="1108">1</text></g>
<path class="w" stroke="#9a5a2a" d="M850 1083 H955"/><path class="w" stroke="#55b0e0" d="M850 1103 H955"/>
<circle cx="912" cy="1083" r="4" fill="#111"/><ellipse cx="912" cy="1095" rx="8" ry="18" fill="none" stroke="#333" stroke-dasharray="3 2"/>
<g class="s"><text x="866" y="1087">5/30</text><text x="935" y="1087">К</text><text x="866" y="1107">5/11</text><text x="935" y="1107">Г</text></g>

<path d="M945 1207 h30 M958 1201 l-6 6 l6 6 M964 1201 l-6 6 l6 6" stroke="#555" fill="none" stroke-width="1.5"/>
<circle class="c" cx="1032" cy="1225" r="11"/><text class="n" x="1032" y="1230" text-anchor="middle" font-size="11">17</text>
<path d="M982 1258 H1000 L1005 1250 H1030 L1035 1258 H1072 V1275 H1035 L1030 1283 H1005 L1000 1275 H982z" fill="#a8a898" stroke="#666"/>
<g><rect class="pb" x="955" y="1228" width="26" height="20"/><rect class="pb" x="955" y="1248" width="26" height="20"/><rect class="pb" x="955" y="1268" width="26" height="20"/><rect class="pb" x="955" y="1288" width="26" height="20"/>
<text class="t" x="961" y="1243">A</text><text class="t" x="961" y="1263">C</text><text class="t" x="961" y="1283">B</text><text class="t" x="961" y="1303">D</text></g>
<path class="w" stroke="#9a5a2a" d="M850 1220 H912 V1228"/><path class="w" stroke="#d8a8d8" d="M850 1238 H955 M850 1278 H955"/><path class="w" stroke="#8a5020" d="M850 1258 H955"/><path class="w" stroke="#e0cc20" d="M850 1298 H955"/>
<circle cx="912" cy="1228" r="4" fill="#111"/><ellipse cx="912" cy="1250" rx="8" ry="20" fill="none" stroke="#333" stroke-dasharray="3 2"/>
<g class="s"><text x="866" y="1224">G2</text><text x="895" y="1224">К</text><text x="866" y="1242">5/28</text><text x="938" y="1242">Р</text><text x="866" y="1262">5/10</text><text x="930" y="1262">КБ</text><text x="866" y="1282">S7</text><text x="930" y="1282">РЧ</text><text x="866" y="1302">5/15</text><text x="930" y="1302">ЖГ</text></g>

<circle class="c" cx="1168" cy="660" r="11"/><text class="n" x="1168" y="665" text-anchor="middle" font-size="11">23</text>
<path d="M1210 662 h30 M1223 656 l6 6 l-6 6 M1229 656 l6 6 l-6 6" stroke="#555" fill="none" stroke-width="1.5"/>
<path d="M1125 700 H1150 V695 H1190 V705 H1210 V735 H1190 V745 H1150 V740 H1125z" fill="#6ac898" stroke="#3a7a5a"/>
<g><rect class="pb" x="1210" y="687" width="26" height="20"/><rect class="pb" x="1210" y="707" width="26" height="20"/><rect class="pb" x="1210" y="727" width="26" height="20"/>
<text class="t" x="1218" y="702">3</text><text class="t" x="1218" y="722">2</text><text class="t" x="1218" y="742">1</text></g>
<path class="w" stroke="#9a5a2a" d="M1236 696 H1354"/><path class="w" stroke="#bbb" d="M1236 716 H1354"/><path class="w" stroke="#d8a8d8" d="M1236 736 H1354"/>
<g class="s"><text x="1275" y="700">К</text><text x="1318" y="700">G2</text><text x="1275" y="720">С</text><text x="1322" y="720">6</text><text x="1272" y="740">РЧ</text><text x="1318" y="740">S7</text></g>
<circle class="c" cx="1163" cy="808" r="11"/><text class="n" x="1163" y="813" text-anchor="middle" font-size="11">22</text>
<path d="M1225 804 h30 M1238 798 l-6 6 l6 6 M1244 798 l-6 6 l6 6" stroke="#555" fill="none" stroke-width="1.5"/>
<rect x="1140" y="850" width="10" height="45" fill="#8a8a7a"/><rect x="1150" y="868" width="60" height="8" fill="#8a8a7a"/>
<g><rect class="pb" x="1215" y="835" width="24" height="20"/><rect class="pb" x="1215" y="855" width="24" height="20"/><rect class="pb" x="1215" y="885" width="24" height="20"/><rect class="pb" x="1215" y="905" width="24" height="20"/>
<text class="t" x="1220" y="850">D</text><text class="t" x="1220" y="870">C</text><text class="t" x="1220" y="900">A</text><text class="t" x="1220" y="920">B</text></g>
<path class="w" stroke="#9a5a2a" d="M1239 832 H1354"/><path class="w" stroke="#e04030" d="M1239 897 H1354"/>
<path class="w" stroke="#4aa030" d="M1239 863 H1295 V1050 H1239" stroke-width="3"/><path class="w" stroke="#e0cc20" d="M1239 915 H1280 V1035 H1239" stroke-width="3"/><path d="M1255 832 H1310 V1060 H1239" stroke="#aaa" stroke-width="2" fill="none"/>
<g class="s"><text x="1295" y="836">К</text><text x="1318" y="836">G2</text><text x="1270" y="901">П</text><text x="1318" y="901">SF</text><text x="1275" y="972">Ж</text><text x="1292" y="972">З</text><text x="1307" y="972">Б</text></g>
<circle class="c" cx="1167" cy="982" r="11"/><text class="n" x="1167" y="987" text-anchor="middle" font-size="11">21</text>
<rect x="1128" y="1053" width="22" height="100" fill="#fff" stroke="#444" stroke-width="1.5"/>
<text class="s" font-style="normal" x="1124" y="1035">1</text><text class="s" font-style="normal" x="1150" y="1035">11</text><text class="s" font-style="normal" x="1118" y="1185">10</text><text class="s" font-style="normal" x="1152" y="1185">0</text>
<rect x="1177" y="1015" width="37" height="180" fill="#8c8e72" stroke="#333"/>
<g font-size="13">
<rect class="pb" x="1214" y="1018" width="24" height="19.5"/><text class="t" x="1217" y="1033">19</text>
<rect class="pb" x="1214" y="1037.5" width="24" height="19.5"/><text class="t" x="1221" y="1052">1</text>
<rect class="pb" x="1214" y="1057" width="24" height="19.5"/><text class="t" x="1217" y="1072">11</text>
<rect class="pb" x="1214" y="1076.5" width="24" height="19.5"/><text class="t" x="1221" y="1091">6</text>
<rect class="pb" x="1214" y="1096" width="24" height="19.5"/><text class="t" x="1217" y="1111">20</text>
<rect class="pb" x="1214" y="1115.5" width="24" height="19.5"/><text class="t" x="1221" y="1130">9</text>
<rect class="pb" x="1214" y="1135" width="24" height="19.5"/><text class="t" x="1217" y="1150">16</text>
<rect class="pb" x="1214" y="1154.5" width="24" height="19.5"/><text class="t" x="1217" y="1169">18</text>
<rect class="pb" x="1214" y="1174" width="24" height="19.5"/><text class="t" x="1217" y="1189">10</text></g>
<path class="w" stroke="#e04030" d="M1238 1086 H1354"/><path class="w" stroke="#55b0e0" d="M1238 1106 H1354 M1238 1125 H1354"/><path class="w" stroke="#9a5a2a" d="M1238 1144 H1354"/><path class="w" stroke="#e8901a" d="M1238 1164 H1354"/><path class="w" stroke="#4aa030" d="M1238 1183 H1354"/>
<g class="s"><text x="1280" y="1090">П</text><text x="1320" y="1090">SF</text><text x="1325" y="1110">6</text><text x="1325" y="1129">4</text><text x="1280" y="1148">К</text><text x="1318" y="1148">G2</text><text x="1275" y="1168">ОГ</text><text x="1315" y="1168">5/55</text><text x="1275" y="1187">ЗЧ</text><text x="1325" y="1187">6</text></g>
<path d="M1112 652 L1322 1250 M1328 642 L1128 1245" stroke="#e8282a" stroke-width="7" stroke-linecap="round"/>

<path d="M1440 1057 h30 M1453 1051 l6 6 l-6 6 M1459 1051 l6 6 l-6 6" stroke="#555" fill="none" stroke-width="1.5"/>
<circle class="c" cx="1512" cy="1055" r="11"/><text class="n" x="1512" y="1060" text-anchor="middle" font-size="11">24</text>
<path d="M1490 1085 H1540 V1195 H1495 V1170 Q1470 1165 1465 1190 Q1440 1190 1445 1175 H1490z" fill="#9a9a8a" stroke="#666"/>
<g><rect class="pb" x="1450" y="1092" width="24" height="19"/><rect class="pb" x="1450" y="1111" width="24" height="19"/><rect class="pb" x="1450" y="1130" width="24" height="19"/><rect class="pb" x="1450" y="1149" width="24" height="19"/>
<text class="t" x="1456" y="1106">D</text><text class="t" x="1456" y="1125">C</text><text class="t" x="1456" y="1144">B</text><text class="t" x="1456" y="1163">A</text></g>
<path class="w" stroke="#aaa" d="M1450 1100 H1405 V1125 M1405 1145 V1255 H1358 M1405 1180 H1388 V1228 H1358" stroke-width="3"/>
<rect class="pb" x="1398" y="1125" width="14" height="20"/><circle cx="1405" cy="1180" r="4" fill="#111"/>
<path d="M1450 1120 H1425 V1240 H1535 M1535 1230 V1250" stroke="#111" stroke-width="3" fill="none"/>
<g class="s"><text x="1422" y="1104">С</text><text x="1380" y="1200">С</text><text x="1385" y="1228">4</text><text x="1380" y="1260">11</text><text x="1490" y="1244">ЧБ</text></g>
<path class="w" stroke="#e04030" d="M1354 1290 V1294 H1450"/><path class="w" stroke="#111" d="M1450 1294 H1495"/><path d="M1495 1294 l-8 -5 v10z" fill="#111"/>
<g class="s"><text x="1372" y="1298">S</text><text x="1410" y="1298">П</text><text x="1460" y="1298">Ч</text></g>
<text class="t" x="1508" y="1300" font-size="16">F</text>
</svg>
</body></html>
